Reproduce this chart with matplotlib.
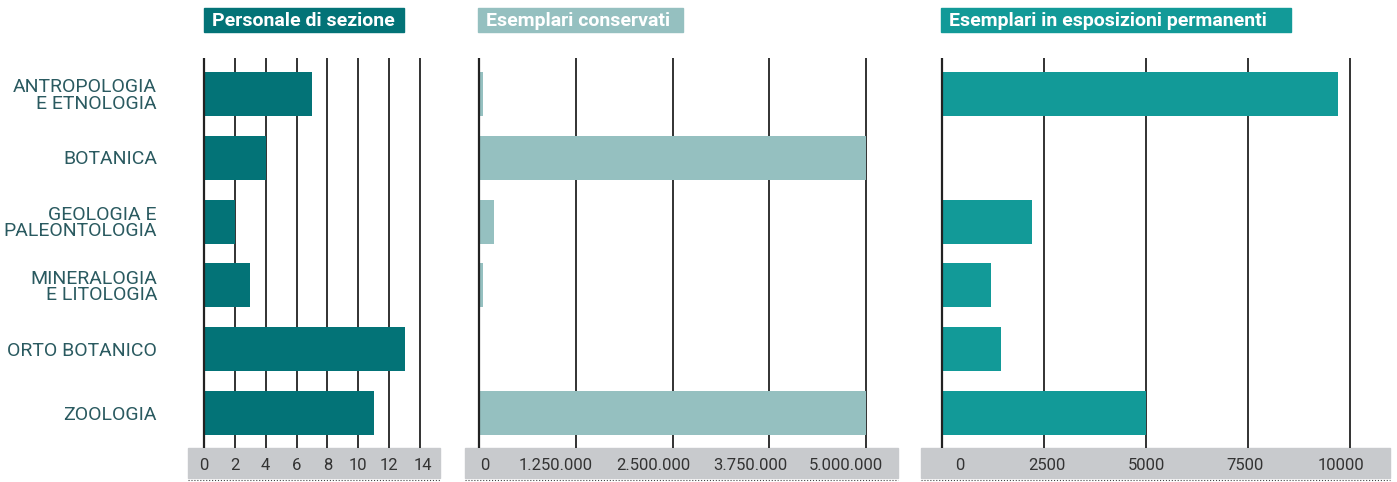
import matplotlib
matplotlib.use("Agg")
import matplotlib.pyplot as plt
from matplotlib.patches import Rectangle
from matplotlib.transforms import blended_transform_factory, offset_copy

categories = ["ANTROPOLOGIA\nE ETNOLOGIA", "BOTANICA", "GEOLOGIA E\nPALEONTOLOGIA",
              "MINERALOGIA\nE LITOLOGIA", "ORTO BOTANICO", "ZOOLOGIA"]

personale = [7, 4, 2, 3, 13, 11]
conservati = [50000, 5000000, 200000, 50000, 0, 5000000]
esposizioni = [9700, 0, 2200, 1200, 1450, 5000]

ticks_personale = [0, 2, 4, 6, 8, 10, 12, 14]
ticks_conservati = [0, 1250000, 2500000, 3750000, 5000000]
labels_conservati = ["0", "1.250.000", "2.500.000", "3.750.000", "5.000.000"]
ticks_esposizioni = [0, 2500, 5000, 7500, 10000]

titles = ["Personale di sezione", "Esemplari conservati", "Esemplari in esposizioni permanenti"]
colors = ["#037377", "#95c0c0", "#129a98"]

FONT = ["Roboto", "DejaVu Sans"]
W, H = 1397, 482
TOP, BOT = 58, 448
ROW0, ROWSTEP = 94, 63.8

fig = plt.figure(figsize=(W / 100, H / 100), dpi=100)


def panel(band, zero_px, ref_px, ref_val, values, ticks, labels, label_dx, color,
          title, title_box):
    x0, x1 = band
    ax = fig.add_axes([x0 / W, 1 - BOT / H, (x1 - x0) / W, (BOT - TOP) / H])
    scale = ref_val / (ref_px - zero_px)
    ax.set_xlim((x0 - zero_px) * scale, (x1 - zero_px) * scale)
    ax.set_ylim((BOT - ROW0) / ROWSTEP, (TOP - ROW0) / ROWSTEP)
    ax.barh(range(len(values)), values, height=0.69, color=color, zorder=2)
    for t in ticks:
        ax.axvline(t, color="#222222", lw=1.3 if t else 1.6, zorder=1 if t else 3)
    ax.set_xticks([])
    ax.set_yticks([])
    for s in ax.spines.values():
        s.set_visible(False)
    # grey tick band under the plot
    bh = 30 / (BOT - TOP)
    ax.add_patch(Rectangle((0, -bh), 1, bh, transform=ax.transAxes,
                           color="#c8cacd", clip_on=False, zorder=0))
    ax.plot([0, 1], [-bh - 0.004, -bh - 0.004], transform=ax.transAxes, ls=":",
            color="#444444", lw=0.8, clip_on=False)
    trans = blended_transform_factory(ax.transData, ax.transAxes)
    for t, lab, dx in zip(ticks, labels, label_dx):
        ax.text(t, -17 / (BOT - TOP), lab,
                transform=offset_copy(trans, fig=fig, x=dx, y=0, units="dots"),
                ha="center", va="center", fontsize=12, color="#333333",
                family=FONT)
    # title box
    bx0, bx1 = title_box
    fig.patches.append(Rectangle((bx0 / W, 1 - 32 / H), (bx1 - bx0) / W, 24 / H,
                                 transform=fig.transFigure, color=color))
    fig.text((bx0 + 8) / W, 1 - 20.5 / H, title, ha="left", va="center",
             fontsize=14, fontweight="bold", color="white", family=FONT)
    return ax


panel((188, 440), 204, 420, 14, personale, ticks_personale,
      [str(t) for t in ticks_personale], [0, 0, 0, 0, 0, 0, 0, 3],
      colors[0], titles[0], (204, 404))
panel((465, 898), 479, 866, 5000000, conservati, ticks_conservati,
      labels_conservati, [6, -20, -19, -19, -20], colors[1], titles[1], (478, 683))
panel((921, 1390), 942, 1350, 10000, esposizioni, ticks_esposizioni,
      [str(t) for t in ticks_esposizioni], [18, 3, 0, -3, -9], colors[2],
      titles[2], (941, 1291))

for i, c in enumerate(categories):
    fig.text(157 / W, 1 - (ROW0 + 1.5 + i * ROWSTEP) / H, c, ha="right", va="center",
             fontsize=14, color="#2a5a60", family=FONT, linespacing=0.9)

fig.savefig("out.png", dpi=100)
